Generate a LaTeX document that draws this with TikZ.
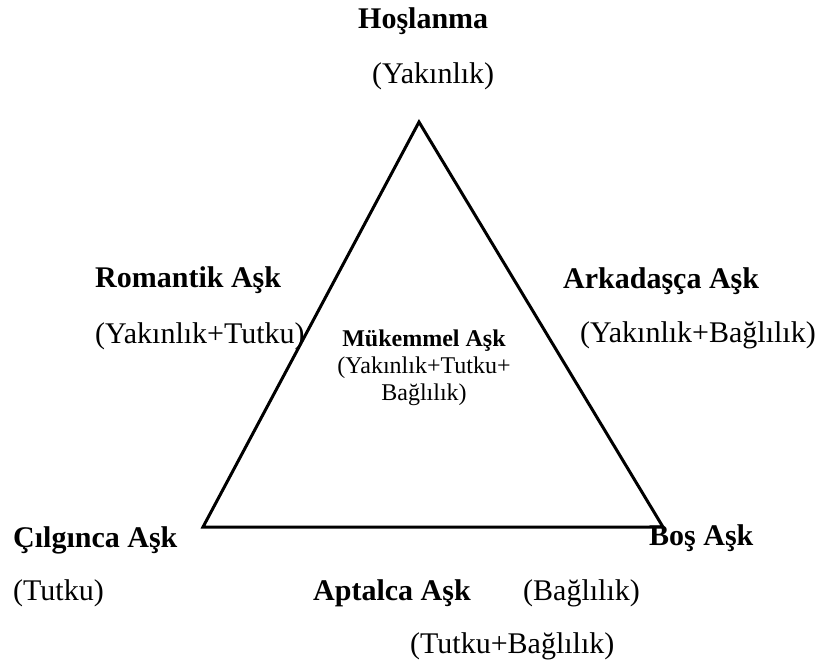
\documentclass[tikz,border=0pt]{standalone}
\usepackage{fontspec}
\setmainfont{Liberation Serif}
\usetikzlibrary{positioning}

\begin{document}
\begin{tikzpicture}[
    x=1pt, y=-1pt,
    every node/.style={inner sep=0pt, anchor=base west},
    title/.style={font=\bfseries\fontsize{30}{36}\selectfont},
    sub/.style={font=\fontsize{30}{36}\selectfont},
    centre/.style={
        font=\fontsize{24}{25.5}\selectfont,
        align=center,
        anchor=base
    },
    side/.style={
        line width=3pt,
        line join=miter
    }
]

\useasboundingbox (0,0) rectangle (825,659);

% triangle corners
\coordinate (top) at (419,122);
\coordinate (left) at (203,527);
\coordinate (right) at (663,527);

\draw[side] (top) -- (left) -- (right) -- cycle;

\node[title] (hoslanma) at (358,28) {Hoşlanma};
\node[sub] (yakinlik) at (372,83) {(Yakınlık)};

\node[title] (romantik) at (95,287) {Romantik Aşk};
\node[sub] (romantiksub) at ([yshift=-56pt]romantik.base west) {(Yakınlık+Tutku)};

\node[title] (arkadasca) at (563,288) {Arkadaşça Aşk};
\node[sub] (arkadascasub) at (580,342) {(Yakınlık+Bağlılık)};

% last line sits on the base
\node[centre] (mukemmel) at (424,400)
    {\textbf{Mükemmel Aşk}\\[1.5pt](Yakınlık+Tutku+\\[1.5pt]Bağlılık)};

\node[title] (cilginca) at (13,547) {Çılgınca Aşk};
\node[sub] (cilgincasub) at ([yshift=-53pt]cilginca.base west) {(Tutku)};

\node[title] (bos) at (649,545) {Boş Aşk};
\node[sub] (bossub) at (523,600) {(Bağlılık)};

\node[title] (aptalca) at (313,600) {Aptalca Aşk};
\node[sub] (aptalcasub) at (410,653) {(Tutku+Bağlılık)};

\end{tikzpicture}
\end{document}
